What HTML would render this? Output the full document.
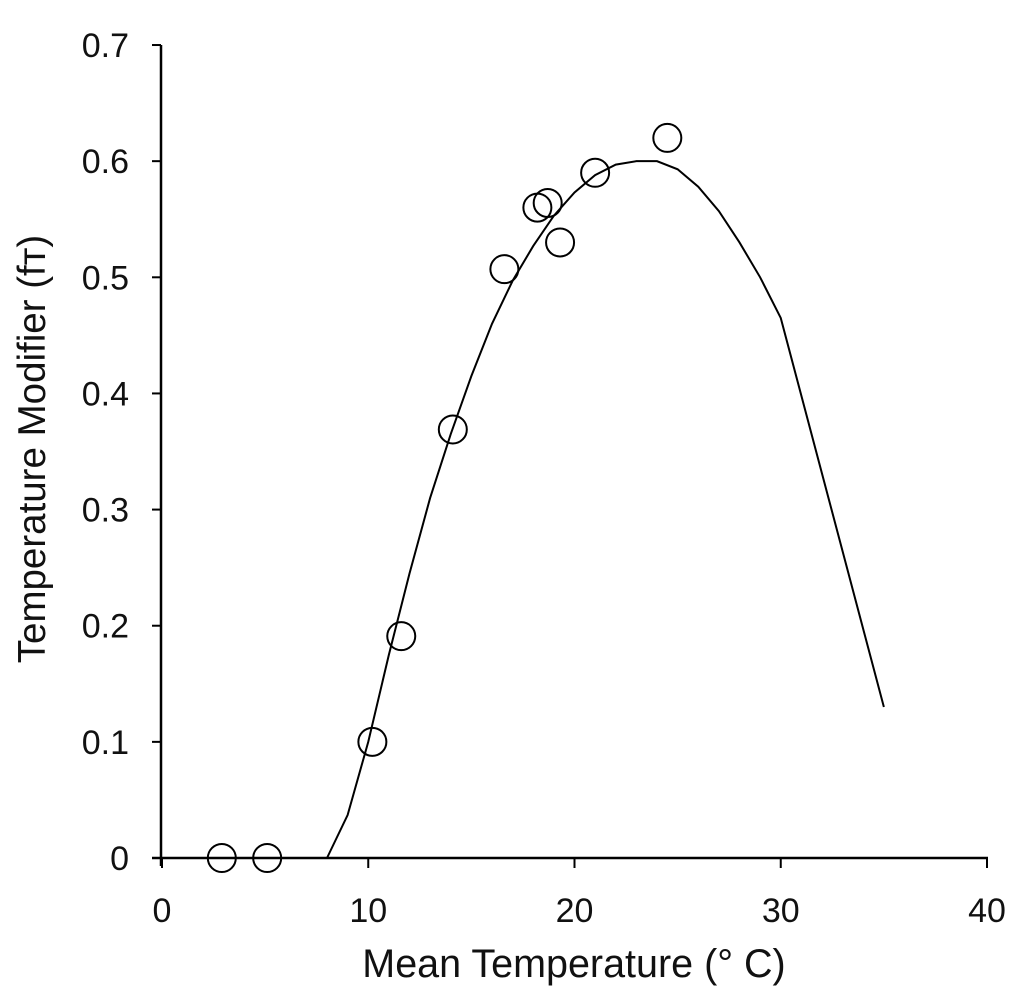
<!DOCTYPE html>
<html><head><meta charset="utf-8"><style>
body{margin:0;background:#fff}
svg text{font-family:"Liberation Sans",sans-serif;fill:#111}
</style></head><body>
<svg id="chart" width="1024" height="1003"></svg>
<script>
const xTicks=[0,10,20,30,40];
const yTicks=[0,0.1,0.2,0.3,0.4,0.5,0.6,0.7];
const yTickLabels=["0","0.1","0.2","0.3","0.4","0.5","0.6","0.7"];
const obsT=[2.9,5.1,10.2,11.6,14.1,16.6,18.2,18.7,19.3,21.0,24.5];
const obsF=[0,0,0.1,0.191,0.369,0.507,0.56,0.564,0.53,0.59,0.62];
const curveT=[8,9,10,11,12,13,14,15,16,17,18,19,20,21,22,23,24,25,26,27,28,29,30,35];
const curveF=[0,0.037,0.1,0.175,0.245,0.31,0.365,0.415,0.46,0.497,0.527,0.553,0.573,0.588,0.597,0.6,0.6,0.593,0.578,0.557,0.53,0.5,0.465,0.13];
const X=v=>162+v*20.625, Y=v=>858-v*1161.4;
const svg=document.getElementById('chart'),NS='http://www.w3.org/2000/svg';
function mk(t,a,txt){const e=document.createElementNS(NS,t);for(const k in a)e.setAttribute(k,a[k]);if(txt!=null)e.textContent=txt;svg.appendChild(e);return e;}
let e;
e=mk('line',{x1:161,y1:45,x2:161,y2:866,stroke:'#000','stroke-width':2.5});


e=mk('line',{x1:152,y1:858,x2:988,y2:858,stroke:'#000','stroke-width':2.5});


yTicks.forEach((v,i)=>{
 e=mk('line',{x1:152,y1:Y(v),x2:161,y2:Y(v),stroke:'#000','stroke-width':2});
 
 
 e=mk('text',{x:129,y:Y(v)+12,'text-anchor':'end','font-size':34},yTickLabels[i]);
 
 
});
xTicks.forEach(v=>{
 e=mk('line',{x1:X(v),y1:858,x2:X(v),y2:868,stroke:'#000','stroke-width':2});
 
 
 e=mk('text',{x:X(v),y:922,'text-anchor':'middle','font-size':34},String(v));
 
 
});
e=mk('text',{x:574,y:977,'text-anchor':'middle','font-size':39.5},'Mean Temperature (° C)');


e=mk('text',{x:0,y:0,'text-anchor':'middle','font-size':38.5,transform:'translate(45,449) rotate(-90)'},'Temperature Modifier (fᴛ)');


e=mk('polyline',{points:curveT.map((t,i)=>X(t)+','+Y(curveF[i])).join(' '),fill:'none',stroke:'#000','stroke-width':2});


obsT.forEach((t,i)=>{
 e=mk('circle',{cx:X(t),cy:Y(obsF[i]),r:14,fill:'none',stroke:'#000','stroke-width':2});
 
 
});
</script>
</body></html>
